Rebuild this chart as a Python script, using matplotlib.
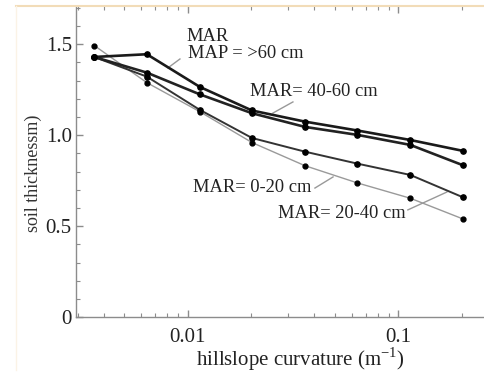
import numpy as np
import matplotlib
matplotlib.use("Agg")
import matplotlib.pyplot as plt
from matplotlib.ticker import FixedLocator, LogLocator, NullFormatter, FixedFormatter
from matplotlib.lines import Line2D

plt.rcParams['font.family'] = ['Liberation Serif', 'DejaVu Serif']
plt.rcParams['mathtext.fontset'] = 'custom'
plt.rcParams['mathtext.rm'] = 'Liberation Serif'

curvature = [0.0036, 0.0064, 0.0114, 0.0202, 0.036, 0.064, 0.114, 0.203]
mar_gt60 = [1.43, 1.445, 1.266, 1.136, 1.075, 1.026, 0.974, 0.914]
mar_40_60 = [1.43, 1.344, 1.225, 1.121, 1.046, 1.002, 0.947, 0.835]
mar_20_40 = [1.43, 1.322, 1.14, 0.985, 0.910, 0.844, 0.782, 0.659]
mar_0_20 = [1.493, 1.289, 1.13, 0.96, 0.833, 0.738, 0.654, 0.540]

fig = plt.figure(figsize=(4.85, 3.74), dpi=100)
ax = fig.add_axes([76/485, 1-317.3/374, 1-76/485, (317.3-6)/374])

ax.plot(curvature, mar_0_20, color='#9a9a9a', lw=1.0, marker='o', ms=3.5, mfc='black', mec='black', zorder=2)
ax.plot(curvature, mar_20_40, color='#333333', lw=1.4, marker='o', ms=3.8, mfc='black', mec='black', zorder=3)
ax.plot(curvature, mar_40_60, color='#222222', lw=1.9, marker='o', ms=3.8, mfc='black', mec='black', zorder=4)
ax.plot(curvature, mar_gt60, color='#1a1a1a', lw=1.9, marker='o', ms=3.8, mfc='black', mec='black', zorder=5)

ax.set_xscale('log')
ax.set_xlim(0.00295, 0.258)
ax.set_ylim(0, 1.71)

ax.xaxis.set_major_locator(FixedLocator([0.01, 0.1]))
ax.xaxis.set_major_formatter(FixedFormatter(['0.01', '0.1']))
ax.xaxis.set_minor_locator(LogLocator(base=10, subs=np.arange(2, 10)))
ax.xaxis.set_minor_formatter(NullFormatter())
ax.yaxis.set_major_locator(FixedLocator([0, 0.5, 1.0, 1.5]))
ax.yaxis.set_major_formatter(FixedFormatter(['0', '0.5', '1.0', '1.5']))
ax.yaxis.set_minor_locator(FixedLocator(np.arange(0.1, 1.71, 0.1)))

for s in ['right', 'top']:
    ax.spines[s].set_visible(False)
for s in ['left', 'bottom']:
    ax.spines[s].set_color('#8c8c8c')
    ax.spines[s].set_linewidth(1.0)

ax.tick_params(which='both', direction='in', color='#8c8c8c', top=True, right=False)
ax.tick_params(which='major', length=5, width=1.0, labelsize=15, labelcolor='#222222')
ax.tick_params(axis='x', which='major', pad=8)
ax.tick_params(axis='y', which='major', pad=3)
ax.tick_params(which='minor', length=3, width=0.8)

ax.set_xlabel('hillslope curvature (m$^{\\mathregular{-1}}$)', fontsize=15, color='#222222', va='center')
ax.xaxis.set_label_coords((300-76)/409, (317.3-359)/311.3)
ax.set_ylabel('soil thicknessm)', fontsize=13, color='#333333', va='center')
ax.yaxis.set_label_coords(-(76-33)/409, (317.3-173)/311.3)

tc = '#222222'
lc = '#999999'
fs = 13.3
ax.text(0.0099, 1.54, 'MAR', fontsize=fs, color=tc, ha='left', va='center')
ax.text(0.0100, 1.447, 'MAP = >60 cm', fontsize=fs, color=tc, ha='left', va='center')
ax.plot([0.00919, 0.00806], [1.419, 1.37], color=lc, lw=1)
ax.text(0.01977, 1.238, 'MAR= 40-60 cm', fontsize=fs, color=tc, ha='left', va='center')
ax.plot([0.0316, 0.0254], [1.183, 1.122], color=lc, lw=1)
ax.text(0.01062, 0.7105, 'MAR= 0-20 cm', fontsize=fs, color=tc, ha='left', va='center')
ax.plot([0.0402, 0.049], [0.71, 0.771], color=lc, lw=1)
ax.text(0.0268, 0.5676, 'MAR= 20-40 cm', fontsize=fs, color=tc, ha='left', va='center')
ax.plot([0.111, 0.170], [0.59, 0.688], color=lc, lw=1)

fig.add_artist(Line2D([16/485, 1], [1-5.5/374, 1-5.5/374], color='#f2dcb8', lw=1.5, transform=fig.transFigure))
fig.add_artist(Line2D([16/485, 16/485], [1-5.5/374, 1-370/374], color='#fbf3e6', lw=1.0, transform=fig.transFigure))

fig.savefig('out.png', dpi=100)
